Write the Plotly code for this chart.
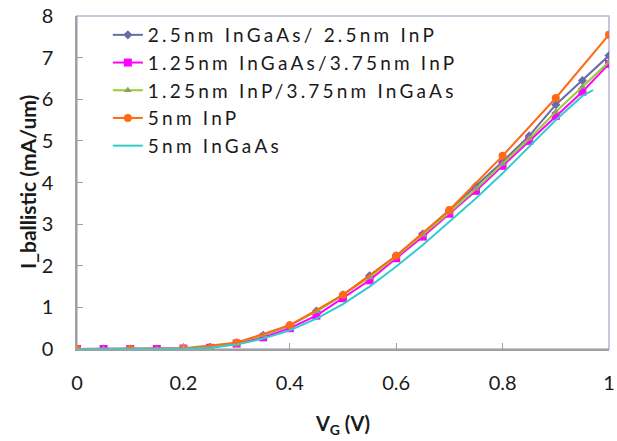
import plotly.graph_objects as go

vg = [0, 0.05, 0.1, 0.15, 0.2, 0.25, 0.3, 0.35, 0.4, 0.45, 0.5, 0.55, 0.6, 0.65, 0.7, 0.75, 0.8, 0.85, 0.9, 0.95, 1.0]
vg_inp = [0, 0.1, 0.2, 0.3, 0.4, 0.5, 0.6, 0.7, 0.8, 0.9, 1.0]
vg_ingaas = [0, 0.05, 0.1, 0.15, 0.2, 0.25, 0.3, 0.35, 0.4, 0.45, 0.5, 0.55, 0.6, 0.65, 0.7, 0.75, 0.8, 0.85, 0.9, 0.95, 0.97]

i_25_25 = [0, 0, 0, 0, 0.01, 0.04, 0.15, 0.33, 0.57, 0.91, 1.30, 1.76, 2.24, 2.76, 3.33, 3.92, 4.50, 5.12, 5.87, 6.45, 7.05]
i_125_375 = [0, 0, 0, 0, 0.01, 0.03, 0.13, 0.28, 0.50, 0.80, 1.22, 1.65, 2.18, 2.70, 3.25, 3.80, 4.40, 5.00, 5.60, 6.18, 6.85]
i_125inp = [0, 0, 0, 0, 0.01, 0.04, 0.15, 0.33, 0.58, 0.90, 1.30, 1.72, 2.22, 2.74, 3.28, 3.85, 4.45, 5.05, 5.70, 6.30, 6.90]
i_inp = [0, 0, 0.02, 0.15, 0.57, 1.30, 2.24, 3.34, 4.64, 6.03, 7.55]
i_ingaas = [0, 0, 0, 0, 0.01, 0.03, 0.11, 0.25, 0.45, 0.73, 1.08, 1.50, 1.98, 2.50, 3.05, 3.62, 4.22, 4.85, 5.50, 6.08, 6.22]

names = ["2.5nm InGaAs/ 2.5nm InP", "1.25nm InGaAs/3.75nm InP", "1.25nm InP/3.75nm InGaAs", "5nm InP", "5nm InGaAs"]
xtick_vals = [0, 0.2, 0.4, 0.6, 0.8, 1.0]
xtick_text = ["0", "0.2", "0.4", "0.6", "0.8", "1"]
y_title = "I_ballistic (mA/um)"
x_title = "V<sub>G</sub> (V)"

fig = go.Figure()
fig.add_trace(go.Scatter(x=vg, y=i_25_25, name=names[0], mode="lines+markers",
                         line=dict(color="#6a6aa8", width=2),
                         marker=dict(symbol="diamond", size=7, color="#6a6aa8")))
fig.add_trace(go.Scatter(x=vg, y=i_125_375, name=names[1], mode="lines+markers",
                         line=dict(color="#ff00ff", width=2),
                         marker=dict(symbol="square", size=8, color="#ff00ff")))
fig.add_trace(go.Scatter(x=vg, y=i_125inp, name=names[2], mode="lines+markers",
                         line=dict(color="#99cc33", width=2),
                         marker=dict(symbol="triangle-up", size=7, color="#8f9f6a")))
fig.add_trace(go.Scatter(x=vg_inp, y=i_inp, name=names[3], mode="lines+markers",
                         line=dict(color="#ff6a13", width=2),
                         marker=dict(symbol="circle", size=8, color="#ff6a13")))
fig.add_trace(go.Scatter(x=vg_ingaas, y=i_ingaas, name=names[4], mode="lines",
                         line=dict(color="#33cccc", width=2)))

fig.add_shape(type="rect", xref="paper", yref="paper", x0=0, x1=1, y0=0, y1=1,
              line=dict(color="#b4b4d2", width=1.5), layer="below")

fig.add_annotation(text="<b>" + y_title + "</b>", xref="paper", yref="paper",
                   x=-0.093, y=0.5, xanchor="center", yanchor="middle",
                   textangle=-90, showarrow=False, font=dict(size=21, color="#1a1a1a"))

fig.update_layout(
    width=617, height=441,
    margin=dict(l=77, r=2, t=16, b=92),
    paper_bgcolor="white", plot_bgcolor="white",
    font=dict(family="Lato, 'Open Sans', sans-serif", color="#1a1a1a", size=20),
    showlegend=True,
    legend=dict(x=0.058, y=1.0, xanchor="left", yanchor="top",
                bgcolor="rgba(0,0,0,0)", font=dict(size=19), tracegroupgap=0),
    xaxis=dict(range=[0, 1], tickvals=xtick_vals, ticktext=xtick_text,
               showgrid=False, zeroline=False, showline=True, linecolor="#a0a0a0", linewidth=1.5,
               ticks="inside", ticklen=6, tickcolor="#a0a0a0", ticklabeloverflow="allow",
               tickfont=dict(size=20), ticklabelstandoff=15,
               title=dict(text="<b>" + x_title + "</b>", font=dict(size=20), standoff=24)),
    yaxis=dict(range=[0, 8], dtick=1,
               showgrid=False, zeroline=False, showline=True, linecolor="#a0a0a0", linewidth=1.5,
               ticks="inside", ticklen=6, tickcolor="#a0a0a0",
               tickfont=dict(size=20), ticklabelstandoff=18),
)

post = ("var s=document.createElement('style');"
        "s.textContent='.legendtext{letter-spacing:3.2px;} .legend, .legend *{clip-path:none !important;}';"
        "document.head.appendChild(s);")
fig.write_html("out.html", post_script=post)
